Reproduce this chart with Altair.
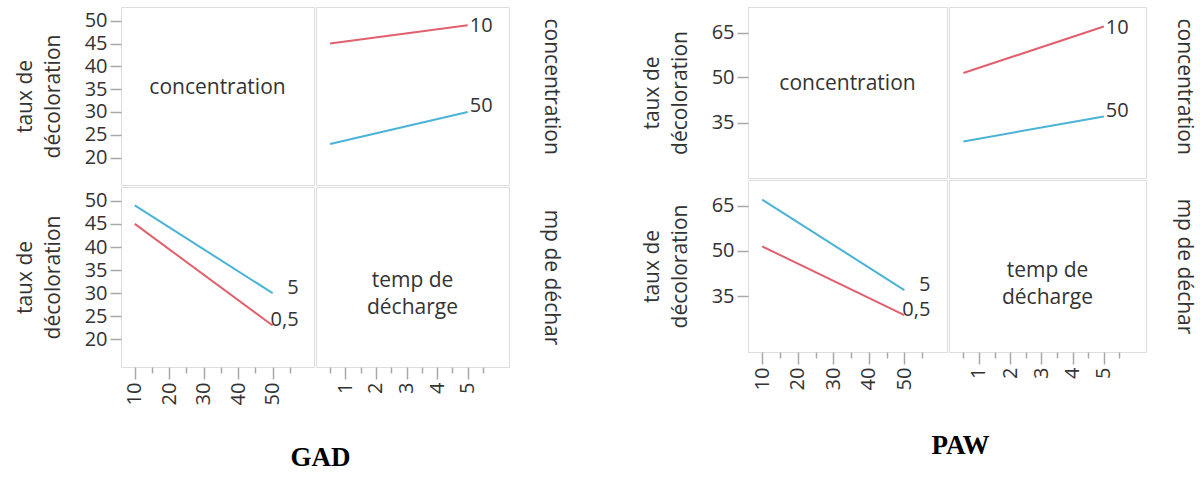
import altair as alt
import pandas as pd

# ---------------- data ----------------
conc_labels = ["10", "50"]          # concentration levels
time_labels = ["0,5", "5"]          # temps de décharge levels

row_conc = [10, 10, 50, 50]
row_time = [0.5, 5, 0.5, 5]
row_conc_lab = ["10", "10", "50", "50"]
row_time_lab = ["0,5", "5", "0,5", "5"]

gad_taux = [45, 49, 23, 30]
paw_taux = [51.5, 67, 28.7, 37]

gad_yticks = [20, 25, 30, 35, 40, 45, 50]
paw_yticks = [35, 50, 65]
conc_ticks = [10, 15, 20, 25, 30, 35, 40, 45, 50, 55]
time_ticks = [0.5, 1, 1.5, 2, 2.5, 3, 3.5, 4, 4.5, 5, 5.5]

diag_labels = ["concentration", "temp de\ndécharge"]
side_labels = ["concentration", "mp de déchar"]
y_title = ["taux de", "décoloration"]

# ---------------- style ----------------
FONT = "Open Sans"
TXT = "#333333"
GRID = "#a8a8a8"
RED = "#e0606e"
BLUE = "#4ab3d6"
CONC_DOM = [6, 62]
TIME_DOM = [0.04, 6.35]


def make_df(taux):
    return pd.DataFrame({"conc": row_conc, "time": row_time,
                         "conc_lab": row_conc_lab, "time_lab": row_time_lab,
                         "taux": taux})


def y_left(vals):
    return alt.Axis(values=vals, title=y_title, titleFont=FONT, titleFontSize=21,
                    titleFontWeight="normal", titleColor=TXT, titlePadding=21,
                    titleLineHeight=28, labelFont=FONT, labelFontSize=20,
                    labelColor=TXT, labelPadding=3, tickSize=11, tickColor=GRID,
                    tickWidth=1.5, domain=False, grid=False, labelOverlap=False,
                    labelBound=False, format="d")


def y_right(text, align, tx, ty):
    return alt.Axis(title=text, titleFont=FONT, titleFontSize=21,
                    titleFontWeight="normal", titleColor=TXT, titleAngle=90,
                    titleAlign=align, titleBaseline="middle", titleX=tx, titleY=ty,
                    labels=False, ticks=False, domain=False, grid=False)


def x_bottom(vals, test):
    return alt.Axis(values=vals, title=None, labelAngle=270, labelFont=FONT,
                    labelFontSize=20, labelColor=TXT, labelPadding=3,
                    labelExpr=f"({test}) ? format(datum.value, 'd') : ''",
                    tickSize={"condition": {"test": test, "value": 12}, "value": 6},
                    tickColor=GRID, tickWidth=1.5, domain=False, grid=False,
                    labelFlush=False, labelOverlap=False, labelBound=False)


def block(taux, ydom, yticks, w1, w2, h1, h2, dy_a, dy_d, name, tdx, toff, side_dx):
    df = make_df(taux)
    ysc = alt.Scale(domain=ydom, nice=False, zero=False)
    csc = alt.Scale(domain=CONC_DOM, nice=False, zero=False)
    tsc = alt.Scale(domain=TIME_DOM, nice=False, zero=False)

    # --- top-left: label cell with y axis
    a_pts = alt.Chart(df).mark_point(opacity=0).encode(
        y=alt.Y("taux:Q", scale=ysc, axis=y_left(yticks)))
    a_txt = alt.Chart(pd.DataFrame({"t": [diag_labels[0]]})).mark_text(
        font=FONT, fontSize=21, color=TXT).encode(
        text="t:N", x=alt.value(w1 / 2), y=alt.value(h1 / 2 + dy_a))
    a = alt.layer(a_pts, a_txt).properties(width=w1, height=h1)

    # --- top-right: taux vs time, one line per concentration
    b_base = alt.Chart(df).encode(
        x=alt.X("time:Q", scale=tsc, axis=None),
        y=alt.Y("taux:Q", scale=ysc, axis=y_right(side_labels[0], "left", w2 + side_dx, 11)))
    b_line = b_base.mark_line(strokeWidth=2).encode(
        color=alt.Color("conc_lab:N", scale=alt.Scale(domain=conc_labels, range=[RED, BLUE]),
                        legend=None))
    b_l1 = b_base.transform_filter("datum.time == 5 && datum.conc_lab == '10'").mark_text(
        font=FONT, fontSize=20, color=TXT, align="left", baseline="middle", dx=2, dy=1
    ).encode(text="conc_lab:N")
    b_l2 = b_base.transform_filter("datum.time == 5 && datum.conc_lab == '50'").mark_text(
        font=FONT, fontSize=20, color=TXT, align="left", baseline="alphabetic", dx=2, dy=0
    ).encode(text="conc_lab:N")
    b = alt.layer(b_line, b_l1, b_l2).properties(width=w2, height=h1)

    # --- bottom-left: taux vs concentration, one line per time
    c_base = alt.Chart(df).encode(
        x=alt.X("conc:Q", scale=csc,
                axis=x_bottom(conc_ticks, "abs(datum.value / 10 - round(datum.value / 10)) < 0.01")),
        y=alt.Y("taux:Q", scale=ysc, axis=y_left(yticks)))
    c_line = c_base.mark_line(strokeWidth=2).encode(
        color=alt.Color("time_lab:N", scale=alt.Scale(domain=time_labels, range=[RED, BLUE]),
                        legend=None))
    c_lab = c_base.transform_filter("datum.conc == 50").mark_text(
        font=FONT, fontSize=20, color=TXT, align="right", baseline="alphabetic", dx=26, dy=1
    ).encode(text="time_lab:N")
    c = alt.layer(c_line, c_lab).properties(width=w1, height=h2)

    # --- bottom-right: label cell with time axis
    d_pts = alt.Chart(df).mark_point(opacity=0).encode(
        x=alt.X("time:Q", scale=tsc,
                axis=x_bottom(time_ticks, "abs(datum.value - round(datum.value)) < 0.01")),
        y=alt.Y("taux:Q", scale=ysc, axis=y_right(side_labels[1], "center", w2 + side_dx, h2 / 2)))
    d_txt = alt.Chart(pd.DataFrame({"t": [diag_labels[1]]})).mark_text(
        font=FONT, fontSize=21, color=TXT, lineBreak="\n", lineHeight=27).encode(
        text="t:N", x=alt.value(w2 / 2), y=alt.value(h2 / 2 + dy_d))
    d = alt.layer(d_pts, d_txt).properties(width=w2, height=h2)

    return alt.vconcat(
        alt.hconcat(a, b, spacing=0),
        alt.hconcat(c, d, spacing=0),
        spacing=0,
        title=alt.TitleParams(name, orient="bottom", anchor="middle", font="Liberation Serif",
                              fontSize=27, fontWeight="bold", color="black", offset=toff, dx=tdx),
    )


gad = block(gad_taux, [14, 53], gad_yticks, 193, 193, 178, 180, -8, 4, "GAD", 33, 40, 41)
paw = block(paw_taux, [16.5, 73.5], paw_yticks, 199, 197, 171, 172, -9, 5, "PAW", 43, 43, 37)

chart = alt.hconcat(gad, paw, spacing=78).properties(
    padding={"left": 13, "top": 6, "right": 0, "bottom": 0}
).configure_view(stroke=GRID, strokeWidth=2).configure(background="white")

chart.save("out.html", embed_options={"renderer": "svg", "actions": False})
